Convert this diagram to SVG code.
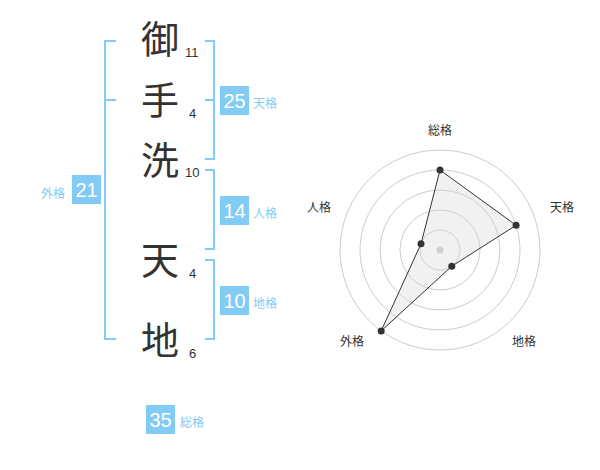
<svg xmlns="http://www.w3.org/2000/svg" width="600" height="470" viewBox="0 0 600 470">
<style>
.ch{font-family:"Noto Sans CJK JP","Noto Sans CJK SC",sans-serif;font-size:38px;fill:#333}
.num{font-family:"Liberation Sans",Arial,sans-serif;font-size:13px;fill:#333}
.br{fill:none;stroke:#82CBF5;stroke-width:2}
.badge{fill:#82CBF5}
.bt{font-family:"Liberation Sans",Arial,sans-serif;font-size:20px;fill:#fff;text-anchor:middle}
.lbl{font-family:"Noto Sans CJK JP","Noto Sans CJK SC",sans-serif;font-size:12px;fill:#82CBF5}
.rl{font-family:"Noto Sans CJK JP","Noto Sans CJK SC",sans-serif;font-size:12px;fill:#333;text-anchor:middle}
.ring{fill:none;stroke:#ccc;stroke-width:1}
.pt{fill:#333}
</style>
<rect width="600" height="470" fill="#fff"/>
<g id="chars">
<text class="ch" x="141" y="53">御</text>
<text class="num" x="185" y="57">11</text>
<text class="ch" x="141" y="114">手</text>
<text class="num" x="189" y="118">4</text>
<text class="ch" x="141" y="174">洗</text>
<text class="num" x="185" y="177">10</text>
<text class="ch" x="141" y="274">天</text>
<text class="num" x="189" y="278">4</text>
<text class="ch" x="141" y="354">地</text>
<text class="num" x="189" y="358">6</text>
</g>
<g id="connectors">
<path class="br" d="M116 41 H105 V339 H116 M105 100 H116"/>
<path class="br" d="M205 41 H214 V159 H205 M214 100 H205"/>
<path class="br" d="M205 170 H214 V249 H205"/>
<path class="br" d="M205 260 H214 V339 H205"/>
</g>
<g id="tenkaku">
<rect class="badge" x="220" y="86" width="29" height="29"/>
<text class="bt" x="234.5" y="108">25</text>
<text class="lbl" x="253" y="108">天格</text>
</g>
<g id="jinkaku">
<rect class="badge" x="220" y="196" width="29" height="29"/>
<text class="bt" x="234.5" y="218">14</text>
<text class="lbl" x="253" y="218">人格</text>
</g>
<g id="chikaku">
<rect class="badge" x="220" y="286" width="29" height="29"/>
<text class="bt" x="234.5" y="308">10</text>
<text class="lbl" x="253" y="308">地格</text>
</g>
<g id="gaikaku">
<rect class="badge" x="72" y="175" width="29" height="29"/>
<text class="bt" x="86.5" y="197">21</text>
<text class="lbl" x="41" y="198">外格</text>
</g>
<g id="soukaku">
<rect class="badge" x="146" y="405" width="29" height="29"/>
<text class="bt" x="160.5" y="427">35</text>
<text class="lbl" x="180" y="427">総格</text>
</g>
<g id="radar">
<circle class="ring" cx="440" cy="250" r="100"/>
<circle class="ring" cx="440" cy="250" r="80"/>
<circle class="ring" cx="440" cy="250" r="60"/>
<circle class="ring" cx="440" cy="250" r="40"/>
<circle class="ring" cx="440" cy="250" r="20"/>
<circle cx="440" cy="250" r="3.5" fill="#ccc"/>
<polygon points="440,170 516.1,225.3 451.8,266.2 381.2,330.9 421,243.8" fill="#d8d8d8" fill-opacity="0.35" stroke="#333" stroke-width="1"/>
<circle class="pt" cx="440" cy="170" r="3.5"/>
<circle class="pt" cx="516.1" cy="225.3" r="3.5"/>
<circle class="pt" cx="451.8" cy="266.2" r="3.5"/>
<circle class="pt" cx="381.2" cy="330.9" r="3.5"/>
<circle class="pt" cx="421" cy="243.8" r="3.5"/>
<text class="rl" x="440" y="135">総格</text>
<text class="rl" x="562" y="212">天格</text>
<text class="rl" x="319" y="212">人格</text>
<text class="rl" x="352" y="346">外格</text>
<text class="rl" x="524" y="346">地格</text>
</g>
</svg>
